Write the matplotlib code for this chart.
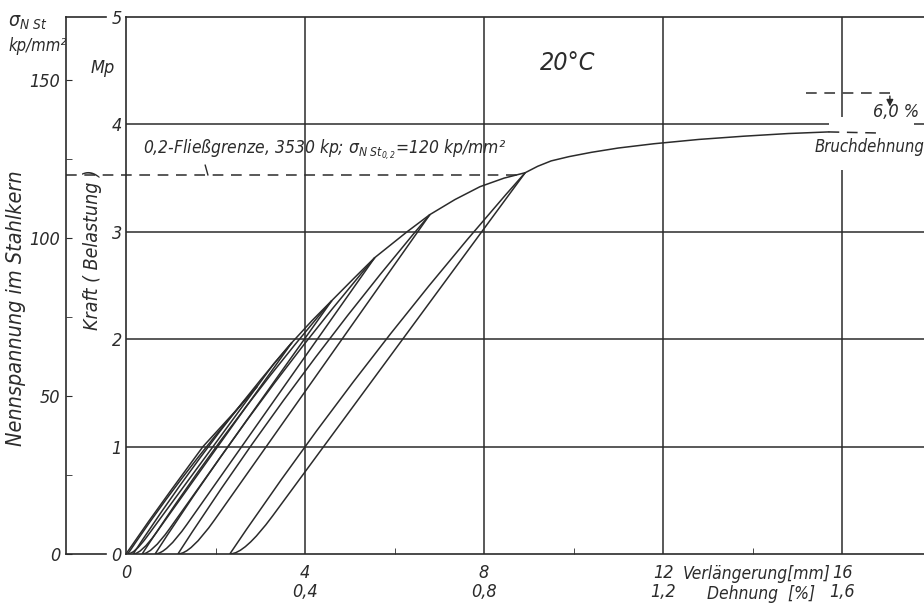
import numpy as np
import matplotlib
matplotlib.use('Agg')
import matplotlib.pyplot as plt
from matplotlib.path import Path
from matplotlib.patches import PathPatch

plt.rcParams['font.family'] = ['DejaVu Sans']
plt.rcParams['font.style'] = 'italic'
plt.rcParams['font.stretch'] = 'condensed'
plt.rcParams['mathtext.fontset'] = 'dejavusans'

INK = '#2b2b2b'
LW = 1.1
DASH = (0, (7, 5))

# Achsenwerte
kraft_ticks = [0, 1, 2, 3, 4, 5]              # Mp
spannung_ticks = [0, 50, 100, 150]            # kp/mm2
spannung_minor = [25, 75, 125]
mm_ticks = [0, 4, 8, 12, 16]
mm_labels = ['0', '4\n0,4', '8\n0,8', '12\n1,2', '16\n1,6']
mm_minor = [2, 6, 10, 14]

# 0,2-Fliessgrenze
F02 = 3.53        # Mp
sigma02 = 120     # kp/mm2

# Huellkurve (Verlaengerung mm, Kraft Mp)
env_x = [0, 0.5, 1.0, 1.72, 2.4, 2.93, 3.3, 3.71, 4.15, 4.60, 5.1, 5.56, 6.28,
         6.79, 7.35, 7.91, 8.45, 8.92, 9.2, 9.5, 9.9, 10.4, 11.0, 11.8, 12.8,
         13.8, 14.8, 15.7]
env_y = [0, 0.30, 0.59, 1.0, 1.31, 1.56, 1.77, 1.97, 2.17, 2.36, 2.57, 2.76, 3.0,
         3.16, 3.30, 3.42, 3.50, 3.55, 3.61, 3.66, 3.70, 3.74, 3.78, 3.82, 3.86,
         3.89, 3.915, 3.93]
# gestrichelte Fortsetzung bis zum Bruch
cont_x = [15.7, 16.8]
cont_y = [3.93, 3.92]

# Ent- und Wiederbelastungsschleifen: Spitze und bleibende Verlaengerung
loop_tip_x = [2.93, 3.71, 4.60, 5.56, 6.79, 8.92]
loop_tip_y = [1.56, 1.97, 2.36, 2.76, 3.16, 3.55]
loop_rest_x = [0.04, 0.16, 0.36, 0.65, 1.16, 2.32]

fig = plt.figure(figsize=(9.24, 6.08), dpi=100)
W, H = 924, 608
ax = fig.add_axes([126 / W, 54 / H, (W - 126) / W, 537 / H])
ax2 = fig.add_axes([66 / W, 54 / H, 40 / W, 537 / H])

ax.set_xlim(0, (W - 126) / 44.75)
ax.set_ylim(0, 5)
ax2.set_ylim(0, 5 * 1000 / (F02 * 1000 / sigma02))

# Hauptachse
ax.spines['right'].set_visible(False)
for s in ['left', 'bottom', 'top']:
    ax.spines[s].set_linewidth(1.2)
    ax.spines[s].set_color(INK)
ax.set_yticks(kraft_ticks)
ax.set_yticklabels([str(v) for v in kraft_ticks])
ax.set_xticks(mm_ticks)
ax.set_xticklabels(mm_labels, linespacing=1.1)
ax.set_xticks(mm_minor, minor=True)
ax.tick_params(axis='y', length=0, pad=3, labelsize=13, colors=INK)
ax.tick_params(axis='x', which='major', length=0, pad=7, labelsize=13, colors=INK)
ax.tick_params(axis='x', which='minor', direction='in', length=4, color=INK)

# Gitter
xmax = ax.get_xlim()[1]
for g in [1, 2, 3]:
    ax.hlines(g, 0, xmax, color=INK, lw=LW)
ax.hlines(4, 0, 15.7, color=INK, lw=LW)
ax.hlines(4, 17.6, xmax, color=INK, lw=LW)
for g in [4, 8, 12]:
    ax.vlines(g, 0, 5, color=INK, lw=LW)
ax.vlines(16, 0, 3.58, color=INK, lw=LW)
ax.vlines(16, 4.07, 5, color=INK, lw=LW)

# Spannungsachse
ax2.spines['right'].set_visible(False)
for s in ['left', 'bottom', 'top']:
    ax2.spines[s].set_linewidth(1.2)
    ax2.spines[s].set_color(INK)
ax2.set_xticks([])
ax2.set_yticks(spannung_ticks)
ax2.set_yticks(spannung_minor, minor=True)
ax2.tick_params(axis='y', which='both', direction='in', length=4, pad=4,
                labelsize=13, colors=INK)
ax2.patch.set_alpha(0)

# Huellkurve und Schleifen
ax.plot(env_x, env_y, color=INK, lw=LW)
ax.plot(cont_x, cont_y, color=INK, lw=LW, ls=DASH)
for tx, ty, r in zip(loop_tip_x, loop_tip_y, loop_rest_x):
    d = tx - r
    dy = 0.045 * ty
    # Wiederbelastung: leicht nach links gewoelbt
    wieder = Path([(r, 0), (r + 0.3 * d, 0.3 * ty + dy), (r + 0.65 * d, 0.65 * ty + dy), (tx, ty)],
                  [Path.MOVETO, Path.CURVE4, Path.CURVE4, Path.CURVE4])
    # Entlastung: fast gerade, unten in die bleibende Dehnung einbiegend
    ky = 0.1 * ty
    kx = r + 0.1 * d + 0.045 * d
    lam = ky / (ty - ky)
    cx = kx - lam * (tx - kx)
    ent = Path([(tx, ty), (kx, ky), (cx, 0), (r, 0)],
               [Path.MOVETO, Path.LINETO, Path.CURVE3, Path.CURVE3])
    for p in (wieder, ent):
        ax.add_patch(PathPatch(p, fill=False, edgecolor=INK, lw=LW))

# 0,2-Grenze gestrichelt, ab Spannungsachse
x_left = ax.transData.inverted().transform(ax2.transAxes.transform((0, 0)))[0]
ax.plot([x_left, 8.9], [F02, F02], color=INK, lw=LW, ls=DASH, clip_on=False)
ax.plot([1.77, 1.83], [3.62, 3.53], color=INK, lw=1.0)
ax.text(0.38, 3.76,
        '0,2-Fließgrenze, 3530 kp; ' + r'$\sigma_{N\ St_{0,2}}$' + '=120 kp/mm²',
        fontsize=12.5, color=INK, va='center', ha='left')

ax.text(9.88, 4.57, '20°C', fontsize=18, color=INK, ha='center', va='center')

# Bruchdehnung
ax.plot([15.2, 17.07], [4.29, 4.29], color=INK, lw=LW, ls=DASH)
ax.annotate('', xy=(17.07, 4.14), xytext=(17.07, 4.29),
            arrowprops=dict(arrowstyle='-|>', color=INK, lw=1.0, mutation_scale=10))
ax.text(17.2, 4.12, '6,0 %', fontsize=13, color=INK, ha='center', va='center')
ax.text(15.38, 3.79, 'Bruchdehnung', fontsize=12, color=INK, ha='left', va='center',
        clip_on=False)

# Achsenbeschriftung unten
ax.text(14.1, -0.19, 'Verlängerung[mm]', fontsize=12.5, color=INK, ha='center', va='center')
ax.text(14.2, -0.37, 'Dehnung  [%]', fontsize=12.5, color=INK, ha='center', va='center')

# linke Beschriftungen
fig.text(103 / W, 1 - 68 / H, 'Mp', fontsize=13, color=INK, ha='center', va='center')
fig.text(92 / W, 1 - 250 / H, 'Kraft ( Belastung )', fontsize=14, color=INK,
         rotation=90, ha='center', va='center')
fig.text(16 / W, 1 - 308 / H, 'Nennspannung im Stahlkern', fontsize=15.5, color=INK,
         rotation=90, ha='center', va='center')
fig.text(8 / W, 1 - 22 / H, r'$\sigma_{N\ St}$', fontsize=14, color=INK, ha='left', va='center')
fig.text(8 / W, 1 - 46 / H, 'kp/mm²', fontsize=12, color=INK, ha='left', va='center')

fig.savefig('out.png', dpi=100)
